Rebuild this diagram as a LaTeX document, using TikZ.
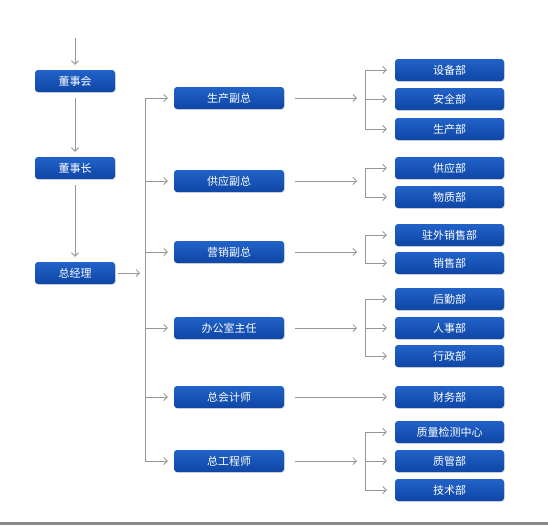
\documentclass[tikz,border=0pt]{standalone}
\usepackage{fontspec}
\newfontfamily\cjk{Noto Sans CJK SC}
\usepackage{tikz}
\usetikzlibrary{arrows, arrows.meta, positioning, calc, shadows}
\definecolor{boxtop}{RGB}{34,98,200}
\definecolor{boxbot}{RGB}{14,70,165}
\definecolor{linegray}{RGB}{150,150,150}
\tikzset{
  orgbox/.style = {rectangle, rounded corners=3pt, top color=boxtop, bottom color=boxbot, text=white, font=\cjk\fontsize{11}{13}\selectfont, minimum height=22pt, inner sep=0pt, drop shadow={opacity=0.25, shadow xshift=0.8pt, shadow yshift=-0.8pt}},
  box_l/.style = {orgbox, minimum width=80pt},
  box_m/.style = {orgbox, minimum width=110pt},
  box_r/.style = {orgbox, minimum width=109pt},
  link/.style = {draw=linegray, line width=0.8pt},
  arr/.style = {link, -{Straight Barb[length=3.5pt, width=7pt]}}
}
\begin{document}
\begin{tikzpicture}[x=1pt, y=-1pt]
  \useasboundingbox (0,0) rectangle (548,525);
  % left column
  \node [box_l] (board) at (75,81)  {董事会};
  \node [box_l] (chair) at (75,168) {董事长};
  \node [box_l] (gm)    at (75,273) {总经理};
  % vice managers
  \node [box_m] (vp1) at (229,98)  {生产副总};
  \node [box_m] (vp2) at (229,181) {供应副总};
  \node [box_m] (vp3) at (229,252) {营销副总};
  \node [box_m] (vp4) at (229,328) {办公室主任};
  \node [box_m] (vp5) at (229,397) {总会计师};
  \node [box_m] (vp6) at (229,461) {总工程师};
  % departments
  \node [box_r] (d11) at (449.5,70)  {设备部};
  \node [box_r] (d12) at (449.5,99)  {安全部};
  \node [box_r] (d13) at (449.5,129) {生产部};
  \node [box_r] (d21) at (449.5,168) {供应部};
  \node [box_r] (d22) at (449.5,197) {物质部};
  \node [box_r] (d31) at (449.5,235) {驻外销售部};
  \node [box_r] (d32) at (449.5,263) {销售部};
  \node [box_r] (d41) at (449.5,299) {后勤部};
  \node [box_r] (d42) at (449.5,328) {人事部};
  \node [box_r] (d43) at (449.5,356) {行政部};
  \node [box_r] (d51) at (449.5,397) {财务部};
  \node [box_r] (d61) at (449.5,432) {质量检测中心};
  \node [box_r] (d62) at (449.5,461) {质管部};
  \node [box_r] (d63) at (449.5,490) {技术部};
  \coordinate (entry) at (75,38);
  \coordinate (trunk) at (145,0);
  \coordinate (brace) at (365,0);
  % chain of command
  \draw [arr, shorten >=5pt] (entry) -- (board);
  \draw [arr, shorten <=6pt, shorten >=5pt] (board) -- (chair);
  \draw [arr, shorten <=6pt, shorten >=5pt] (chair) -- (gm);
  \draw [arr, shorten <=3pt, shorten >=5pt] (gm) -- (trunk |- gm);
  \draw [link] (trunk |- vp1) -- (trunk |- vp6);
  \foreach \i in {1,...,6}
    \draw [arr, shorten >=6pt] (trunk |- vp\i) -- (vp\i);
  % to departments
  \foreach \i in {1,2,3,4,6}
    \draw [arr, shorten <=11pt, shorten >=8pt] (vp\i) -- (brace |- vp\i);
  \draw [arr, shorten <=11pt, shorten >=8pt] (vp5) -- (d51);
  \draw [link] (brace |- d11) -- (brace |- d13);
  \draw [link] (brace |- d21) -- (brace |- d22);
  \draw [link] (brace |- d31) -- (brace |- d32);
  \draw [link] (brace |- d41) -- (brace |- d43);
  \draw [link] (brace |- d61) -- (brace |- d63);
  \foreach \d in {d11,d12,d13,d21,d22,d31,d32,d41,d42,d43,d61,d62,d63}
    \draw [arr, shorten >=8pt] (brace |- \d) -- (\d);
  % bottom rule
  \draw [line width=2.5pt, draw={rgb,255:red,138;green,138;blue,138}] (0,523.5) -- (548,523.5);
\end{tikzpicture}
\end{document}
